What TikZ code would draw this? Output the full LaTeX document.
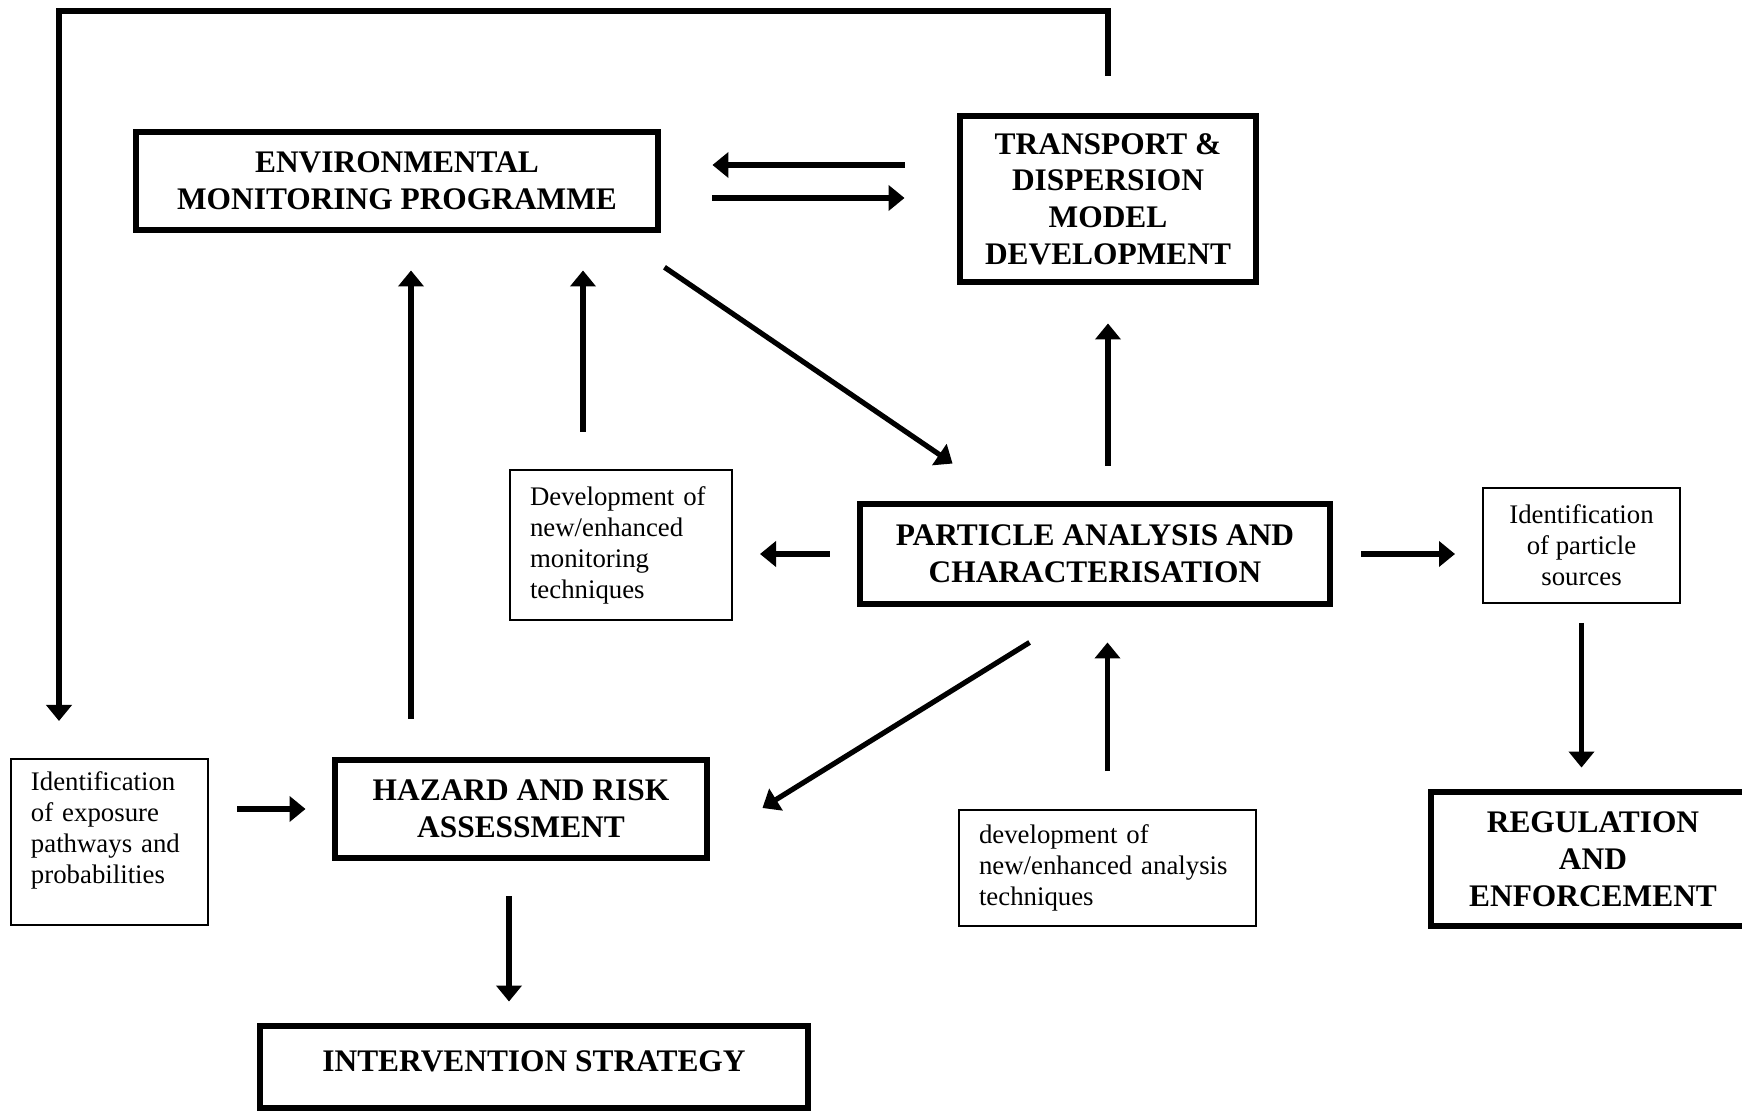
\documentclass[tikz,border=0pt]{standalone}
\usepackage{fontspec}
\setmainfont{Liberation Serif}
\usetikzlibrary{arrows.meta}

\tikzstyle{bigbox}=[draw,line width=3.25pt,align=center,inner sep=0pt,font=\fontsize{15.7}{18.4}\selectfont\bfseries]
\tikzstyle{notebox}=[draw,line width=1pt,align=left,inner xsep=10pt,inner ysep=0pt,font=\fontsize{13.4}{15.5}\selectfont]
\tikzstyle{arrow}=[draw,line width=2.6pt,-{Triangle[length=8pt,width=12.5pt]}]
\newcommand{\pxscale}{0.5pt}

\begin{document}
\begin{tikzpicture}[x=\pxscale,y=-\pxscale]
    \useasboundingbox (0,0) rectangle (1742,1112);
    % First we draw the main boxes
    \foreach \pos/\name/\w/\h/\txt in {
        {(397,181)/emp/261pt/49pt/{ENVIRONMENTAL\\MONITORING PROGRAMME}},
        {(1108,199)/tdm/148pt/83pt/{TRANSPORT \&\\DISPERSION\\MODEL\\DEVELOPMENT}},
        {(1095,554)/pac/235pt/50pt/{PARTICLE ANALYSIS AND\\CHARACTERISATION}},
        {(521,809)/hra/186pt/49pt/{HAZARD AND RISK\\ASSESSMENT}},
        {(1593,859)/reg/162pt/67pt/{REGULATION\\AND\\ENFORCEMENT}}}
        \node[bigbox,minimum width=\w,minimum height=\h] (\name) at \pos {\txt};
    \node[bigbox,minimum width=274pt,minimum height=41pt,text depth=6pt] (is) at (534,1067) {INTERVENTION STRATEGY};
    % Then the small boxes
    \node[notebox,text width=91pt,minimum height=75pt] (devmon) at (621,545)
        {Development of\\new/enhanced\\monitoring\\techniques};
    \node[notebox,text width=78.5pt,minimum height=83pt,text depth=61pt] (expid) at (109.5,842)
        {Identification\\of exposure\\pathways and\\probabilities};
    \node[notebox,text width=128.5pt,minimum height=58pt] (devana) at (1107.5,868)
        {development of\\new/enhanced analysis\\techniques};
    \node[notebox,align=center,minimum width=98.5pt,minimum height=57.5pt] (srcid) at (1581.5,545.5)
        {Identification\\of particle\\sources};
    % Vertical arrows
    \foreach \src/\dst/\dx/\sa/\sb/\from/\to in {hra/emp/-55pt/19pt/18.6pt/north/south,
            devmon/emp/-19pt/18.5pt/18.6pt/north/south, pac/tdm/6.5pt/17.6pt/19.1pt/north/south,
            devana/pac/0pt/19pt/17.6pt/north/south, srcid/reg/0pt/9.5pt/10.6pt/south/north,
            hra/is/-6pt/17.6pt/10.6pt/south/north}
        \path[arrow,shorten <=\sa,shorten >=\sb] ([xshift=\dx]\src.\from) -- ([xshift=\dx]\src.\from |- \dst.\to);
    % Horizontal arrows
    \foreach \src/\dst/\dy/\sa/\sb/\from/\to in {emp/tdm/-8.5pt/25.6pt/26.1pt/east/west,
            tdm/emp/17pt/26.1pt/25.6pt/west/east, pac/devmon/0pt/13.6pt/13.5pt/west/east,
            pac/srcid/0pt/14.1pt/13.5pt/east/west, expid/hra/16.5pt/14pt/13.1pt/east/west}
        \path[arrow,shorten <=\sa,shorten >=\sb] ([yshift=\dy]\src.\from) -- ([yshift=\dy]\src.\from -| \dst.\to);
    % Diagonal arrows
    \path[arrow] ([xshift=1.6pt,yshift=-17pt]emp.south east) -- ([xshift=47.9pt,yshift=18.6pt]pac.north west);
    \path[arrow] ([xshift=86.4pt,yshift=-17.6pt]pac.south west) -- ([xshift=26.1pt,yshift=0.5pt]hra.east);
    % Feedback loop over the top
    \coordinate (fbcorner) at (59,11);
    \path[arrow] ([yshift=18.6pt]tdm.north) |- (fbcorner) -- ([yshift=18.5pt]fbcorner |- expid.north);
\end{tikzpicture}
\end{document}
